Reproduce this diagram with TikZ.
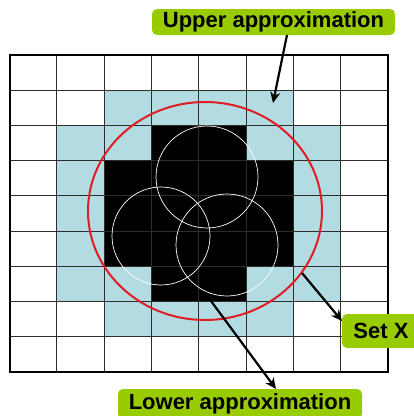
\documentclass[tikz,border=0pt]{standalone}
\usepackage{fontspec}
\setmainfont{Liberation Sans}
\usetikzlibrary{arrows.meta}
\definecolor{lbl}{RGB}{153,204,0}
\definecolor{upblue}{RGB}{178,220,226}
\definecolor{setred}{RGB}{222,30,36}
\definecolor{gridc}{RGB}{45,45,45}
\begin{document}
\begin{tikzpicture}[x=1pt,y=1pt,
  labelbox/.style={fill=lbl,rounded corners=5pt,inner sep=0pt,minimum height=26pt,
    font=\fontsize{22}{24}\selectfont\bfseries,text=black},
  pointer/.style={line width=2.2pt,draw=black,-{Stealth[length=11pt,width=10pt]}},
  gline/.style={draw=gridc,line width=1pt},
  subset/.style={draw=white,line width=0.7pt}]
\useasboundingbox (0,-416) rectangle (414,0);
\def\cw{47.3}\def\rh{35.2}
% upper approximation cells
\foreach \c/\r in {2/1,3/1,4/1,5/1, 1/2,2/2,5/2,6/2, 1/3,6/3,1/4,6/4,1/5,6/5,
  1/6,2/6,5/6,6/6, 2/7,3/7,4/7,5/7}
  \fill[upblue] ({9.5+\c*\cw},{-55-\r*\rh}) rectangle ++(\cw,-\rh);
% lower approximation cells
\foreach \c/\r in {3/2,4/2, 2/3,3/3,4/3,5/3, 2/4,3/4,4/4,5/4, 2/5,3/5,4/5,5/5, 3/6,4/6}
  \fill[black] ({9.5+\c*\cw},{-55-\r*\rh}) rectangle ++(\cw,-\rh);
% grid
\foreach \i in {1,...,7} \draw[gline] ({9.5+\i*\cw},-55) -- ++(0,-316.8);
\foreach \j in {1,...,8} \draw[gline] (9.5,{-55-\j*\rh}) -- ++(378.4,0);
\draw[line width=2pt,black] (9.5,-55) rectangle (387.9,-371.8);
% set X components
\draw[subset] (207,-177) circle[radius=51];
\draw[subset] (161,-236) circle[radius=49];
\draw[subset] (227,-245) circle[radius=51];
% set X outline
\draw[setred,line width=2pt] (205,-211) ellipse[x radius=117,y radius=109];
% labels
\node[labelbox,minimum width=243pt] (up) at (273.5,-22) {Upper approximation};
\node[labelbox,minimum width=78pt,minimum height=34pt] (sx) at (381,-331) {Set X};
\node[labelbox,minimum width=244pt,minimum height=30pt] (lo) at (240,-404) {Lower approximation};
% pointers
\coordinate (ut) at (287,-35);
\coordinate (uh) at (273,-103);
\coordinate (st) at (302,-273);
\coordinate (sh) at (342,-321);
\coordinate (lt) at (211,-301);
\coordinate (lh) at (276,-389);
\draw[pointer] (ut) -- (uh);
\draw[pointer] (st) -- (sh);
\draw[pointer] (lt) -- (lh);
\end{tikzpicture}
\end{document}
